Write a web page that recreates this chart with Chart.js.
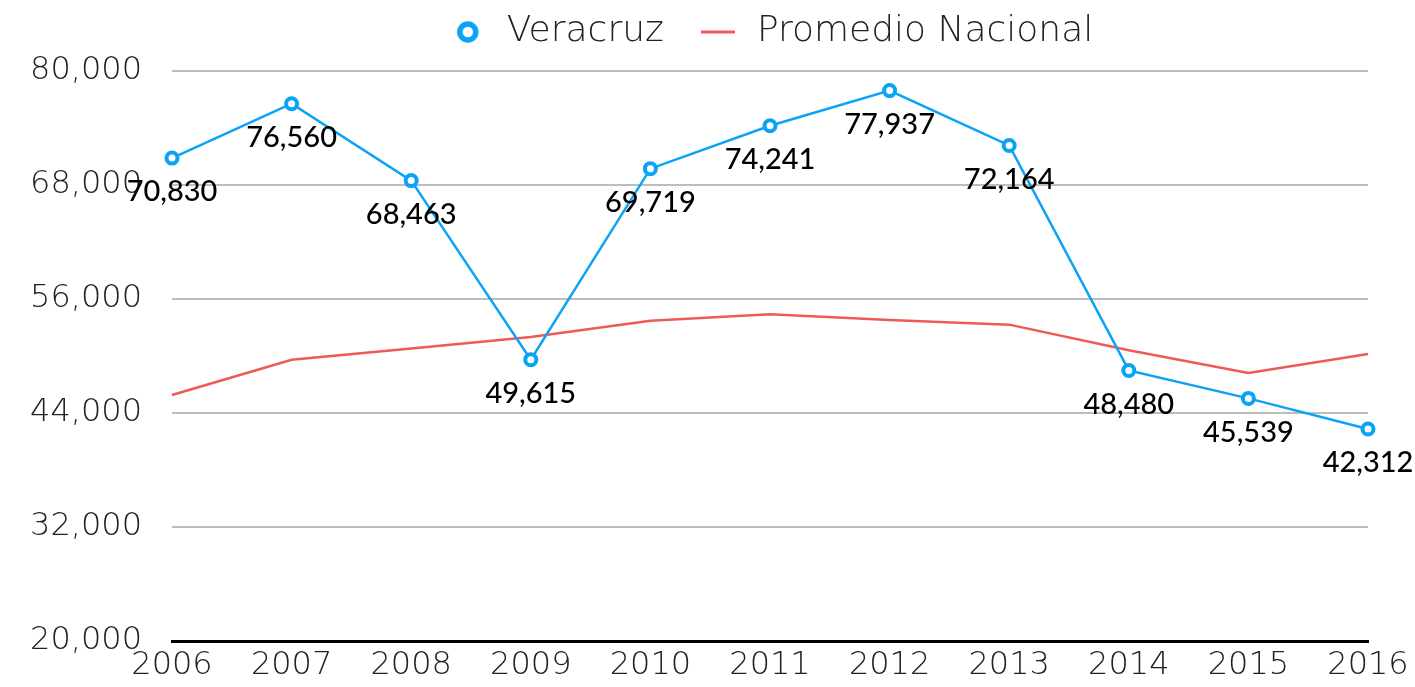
<!DOCTYPE html>
<html>
<head>
<meta charset="utf-8">
<script src="https://cdn.jsdelivr.net/npm/chart.js@4.4.1/dist/chart.umd.min.js"></script>
<style>
    body { margin: 0; background: #fff; }
    #wrap { width: 1415px; height: 687px; }
</style>
</head>
<body>
<div id="wrap"><canvas id="ingresoChart"></canvas></div>
<script>
var years = ['2006', '2007', '2008', '2009', '2010', '2011', '2012', '2013', '2014', '2015', '2016']
var veracruz = [70830, 76560, 68463, 49615, 69719, 74241, 77937, 72164, 48480, 45539, 42312]
var promedioNacional = [45900, 49600, 50800, 52000, 53700, 54400, 53800, 53300, 50600, 48200, 50200]
var yTicks = [20000, 32000, 44000, 56000, 68000, 80000]

var blue = '#0aa3f5'
var red = '#ee5a55'
var axisFont = { family: 'DejaVu Sans', size: 32, weight: '200' }

// iconos de la leyenda
function legendIcon(kind) {
    var c = document.createElement('canvas')
    var ctx = c.getContext('2d')
    if (kind === 'circle') {
        c.width = 26; c.height = 26
        ctx.strokeStyle = blue
        ctx.lineWidth = 5.5
        ctx.fillStyle = '#fff'
        ctx.beginPath()
        ctx.arc(13, 13, 8, 0, Math.PI * 2)
        ctx.fill()
        ctx.stroke()
    } else {
        c.width = 34; c.height = 4
        ctx.fillStyle = red
        ctx.fillRect(0, 0.5, 34, 3)
    }
    return c
}

// etiquetas de valor debajo de cada punto de Veracruz
var pointLabels = {
    id: 'pointLabels',
    beforeInit: function (chart) {
        var fit = chart.legend.fit
        chart.legend.fit = function () {
            fit.call(this)
            this.height = 90
        }
    },
    afterDatasetsDraw: function (chart) {
        var ctx = chart.ctx
        var meta = chart.getDatasetMeta(0)
        ctx.save()
        ctx.font = '500 29px Lato'
        ctx.fillStyle = '#000'
        ctx.textAlign = 'center'
        ctx.textBaseline = 'middle'
        meta.data.forEach(function (pt, i) {
            ctx.fillText(veracruz[i].toLocaleString('en-US'), pt.x, pt.y + 34)
        })
        ctx.restore()
    }
}

new Chart(document.getElementById('ingresoChart'), {
    type: 'line',
    data: {
        labels: years,
        datasets: [{
            label: 'Veracruz',
            data: veracruz,
            borderColor: blue,
            backgroundColor: '#fff',
            borderWidth: 2.5,
            pointRadius: 5.5,
            pointBorderWidth: 4,
            pointBackgroundColor: '#fff',
            pointBorderColor: blue,
            tension: 0
        }, {
            label: 'Promedio Nacional',
            data: promedioNacional,
            borderColor: red,
            backgroundColor: red,
            borderWidth: 2.5,
            pointRadius: 0,
            tension: 0
        }]
    },
    plugins: [pointLabels],
    options: {
        responsive: true,
        maintainAspectRatio: false,
        animation: false,
        layout: { padding: { top: -19, right: 47, left: 0, bottom: 0 } },
        scales: {
            x: {
                afterFit: function (scale) { scale.height = 46 },
                grid: { display: false, drawTicks: false },
                border: { display: true, color: '#000', width: 3 },
                ticks: { color: '#222', font: axisFont, padding: 5, maxRotation: 0 }
            },
            y: {
                min: 20000,
                max: 80000,
                afterFit: function (scale) {
                    scale.width = 172
                    scale.paddingTop = 0
                    scale.paddingBottom = 0
                },
                afterBuildTicks: function (scale) {
                    scale.ticks = yTicks.map(function (v) { return { value: v } })
                },
                grid: { color: '#bdbdbd', lineWidth: 2, drawTicks: false },
                border: { display: false },
                ticks: {
                    color: '#222',
                    font: axisFont,
                    padding: 30,
                    callback: function (v) { return v.toLocaleString('en-US') }
                }
            }
        },
        plugins: {
            legend: {
                position: 'top',
                fullSize: false,
                labels: {
                    usePointStyle: true,
                    pointStyleWidth: 42,
                    font: { family: 'DejaVu Sans', size: 36, weight: '200' },
                    color: '#222',
                    padding: 33,
                    generateLabels: function (chart) {
                        var items = Chart.defaults.plugins.legend.labels.generateLabels(chart)
                        items[0].pointStyle = legendIcon('circle')
                        items[1].pointStyle = legendIcon('line')
                        return items
                    }
                }
            },
            tooltip: { enabled: false }
        }
    }
})
</script>
</body>
</html>
